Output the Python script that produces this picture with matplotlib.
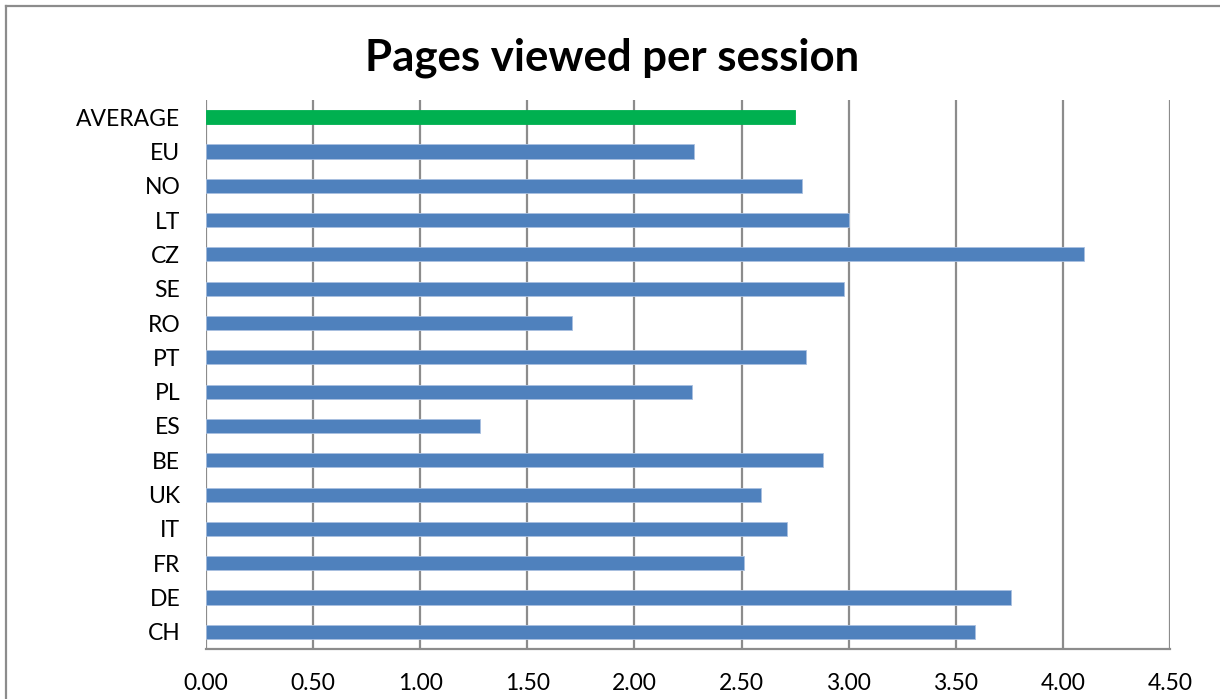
import matplotlib.pyplot as plt
from matplotlib.lines import Line2D

# pages per session by market, bottom to top
countries = ["CH", "DE", "FR", "IT", "UK", "BE", "ES", "PL", "PT", "RO",
             "SE", "CZ", "LT", "NO", "EU", "AVERAGE"]
pages = [3.59, 3.76, 2.51, 2.71, 2.59, 2.88, 1.28, 2.27, 2.80, 1.71,
         2.98, 4.10, 3.00, 2.78, 2.28, 2.75]
xticks = [0.0, 0.5, 1.0, 1.5, 2.0, 2.5, 3.0, 3.5, 4.0, 4.5]

BLUE = "#4F81BD"
GREEN = "#00B050"
GRID = "#8C8C8C"

plt.rcParams['font.family'] = ['Lato', 'DejaVu Sans']

W, H = 1220, 699
fig = plt.figure(figsize=(W / 100, H / 100), dpi=100)
ax = fig.add_axes([206 / W, (H - 649) / H, (1170 - 206) / W, (649 - 100) / H])

colors = [GREEN if c == "AVERAGE" else BLUE for c in countries]
ax.barh(range(len(countries)), pages, height=0.41, color=colors,
        edgecolor="#A9C0E0", linewidth=0.6, zorder=3)
# average bar gets no light outline
ax.patches[-1].set_edgecolor(GREEN)

ax.set_xlim(0, 4.5)
ax.set_ylim(-0.5, len(countries) - 0.5)
ax.set_xticks(xticks)
ax.set_xticklabels(["%.2f" % v for v in xticks], fontsize=16.5)
ax.set_yticks(range(len(countries)))
ax.set_yticklabels(countries, fontsize=16.5)
ax.tick_params(axis="both", length=0, colors="black")
ax.tick_params(axis="x", pad=17)
ax.tick_params(axis="y", pad=18.5)

ax.grid(axis="x", color=GRID, linewidth=1.6, zorder=0)
for side in ["top", "right", "left"]:
    ax.spines[side].set_visible(False)
ax.spines["bottom"].set_color(GRID)
ax.spines["bottom"].set_linewidth(1.6)

fig.text(612 / W, 1 - 58 / H, "Pages viewed per session", ha="center",
         va="center", fontsize=31.5, fontweight="bold")

# chart frame (top and left edges)
fig.add_artist(Line2D([6 / W, 1.0], [1 - 6 / H, 1 - 6 / H],
                      transform=fig.transFigure, color=GRID, linewidth=1.6))
fig.add_artist(Line2D([6 / W, 6 / W], [0.0, 1 - 6 / H],
                      transform=fig.transFigure, color=GRID, linewidth=1.6))

fig.savefig("out.png", dpi=100)
